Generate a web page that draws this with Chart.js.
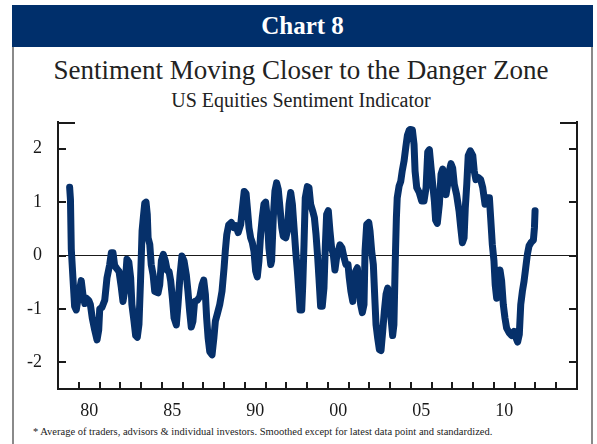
<!DOCTYPE html>
<html>
<head>
<meta charset="utf-8">
<script src="https://cdn.jsdelivr.net/npm/chart.js@4/dist/chart.umd.min.js"></script>
<style>
  html, body { margin: 0; padding: 0; background: #fff; }
  body { width: 597px; height: 444px; position: relative; overflow: hidden; font-family: "Liberation Serif", "Times New Roman", serif; color: #222; }
  #frame { position: absolute; left: 12px; top: 5px; width: 577px; height: 460px; border-left: 2px solid #8a8a8a; border-right: 2px solid #8a8a8a; }
  #header { position: absolute; left: 12px; top: 5px; width: 581px; height: 42px; background: #002f6b; color: #fff; font-weight: bold; font-size: 25px; line-height: 42px; text-align: center; }
  #title { position: absolute; left: 0; width: 602px; top: 54px; font-size: 27px; line-height: 32px; text-align: center; }
  #subtitle { position: absolute; left: 0; width: 602px; top: 88px; font-size: 20px; line-height: 25px; text-align: center; }
  #note { position: absolute; left: 33px; top: 425px; font-size: 10.5px; line-height: 14px; white-space: nowrap; }
  canvas { position: absolute; left: 0; top: 0; }
</style>
</head>
<body>
<div id="frame"></div>
<div id="header">Chart 8</div>
<div id="title">Sentiment Moving Closer to the Danger Zone</div>
<div id="subtitle">US Equities Sentiment Indicator</div>
<div id="note">* Average of traders, advisors &amp; individual investors. Smoothed except for latest data point and standardized.</div>
<canvas id="chart" width="597" height="444"></canvas>
<script>
// x positions in axis units (one unit per tick mark)
const period = [
  0.56, 0.6, 0.64, 0.72, 0.8, 0.88, 1.0, 1.12, 1.2, 1.29, 1.36, 1.48, 1.56, 1.65, 1.77, 1.88, 1.96,
  2.01, 2.12, 2.25, 2.36, 2.49, 2.57, 2.65, 2.73, 2.84, 2.94, 3.05, 3.13, 3.21, 3.32, 3.41, 3.5,
  3.56, 3.66, 3.74, 3.82, 3.9, 3.98, 4.05, 4.11, 4.18, 4.24, 4.3, 4.34, 4.42, 4.49, 4.58, 4.66,
  4.82, 4.9, 4.98, 5.07, 5.17, 5.26, 5.35, 5.43, 5.51, 5.59, 5.7, 5.78, 5.88, 5.97, 6.07, 6.18,
  6.26, 6.34, 6.42, 6.5, 6.58, 6.71, 6.83, 6.94, 7.02, 7.1, 7.16, 7.23, 7.31, 7.42, 7.51, 7.58,
  7.67, 7.79, 7.9, 8.0, 8.06, 8.13, 8.22, 8.35, 8.47, 8.57, 8.68, 8.8, 8.9, 8.97, 9.06, 9.12,
  9.2, 9.28, 9.36, 9.44, 9.52, 9.6, 9.68, 9.76, 9.84, 9.92, 10.0, 10.08, 10.16, 10.25, 10.29, 10.37,
  10.45, 10.53, 10.61, 10.69, 10.78, 10.85, 10.97, 11.05, 11.13, 11.21, 11.29, 11.37, 11.45, 11.53,
  11.61, 11.66, 11.74, 11.79, 11.85, 11.91, 12.01, 12.09, 12.17, 12.27, 12.35, 12.43, 12.51, 12.57,
  12.65, 12.73, 12.81, 12.88, 12.94, 13.02, 13.1, 13.18, 13.26, 13.34, 13.42, 13.5, 13.58, 13.68,
  13.78, 13.87, 13.97, 14.03, 14.11, 14.2, 14.26, 14.34, 14.42, 14.5, 14.58, 14.66, 14.74, 14.79,
  14.87, 14.97, 15.03, 15.11, 15.19, 15.26, 15.32, 15.4, 15.48, 15.56, 15.64, 15.72, 15.8, 15.88,
  15.96, 16.04, 16.12, 16.18, 16.25, 16.3, 16.34, 16.43, 16.51, 16.58, 16.67, 16.75, 16.83, 16.91,
  16.96, 17.07, 17.15, 17.2, 17.28, 17.4, 17.52, 17.63, 17.73, 17.81, 17.89, 17.97, 18.05, 18.13,
  18.19, 18.27, 18.37, 18.45, 18.53, 18.61, 18.69, 18.77, 18.85, 18.93, 19.01, 19.09, 19.2, 19.32,
  19.4, 19.48, 19.56, 19.62, 19.69, 19.76, 19.86, 19.98, 20.05, 20.13, 20.25, 20.36, 20.46, 20.57,
  20.68, 20.78, 20.84, 20.92, 21.0, 21.06, 21.13, 21.21, 21.29, 21.37, 21.45, 21.53, 21.61, 21.74,
  21.85, 21.97, 22.06, 22.14, 22.22, 22.29, 22.37, 22.45, 22.53, 22.61, 22.69, 22.78, 22.9, 22.95, 22.98
];

// standardized sentiment indicator
const sentiment = [
  1.28, 1.05, 0.12, -0.42, -0.95, -1.02, -0.73, -0.47, -0.73, -0.9, -0.8, -0.84, -0.92, -1.17, -1.4, -1.58, -1.4,
  -1.0, -0.97, -0.84, -0.42, -0.17, 0.05, 0.05, -0.19, -0.25, -0.3, -0.6, -0.86, -0.67, -0.07, -0.12, -0.42,
  -0.92, -1.23, -1.5, -1.53, -1.29, -0.42, 0.46, 0.71, 0.98, 1.0, 0.77, 0.33, 0.21, -0.17, -0.36, -0.67,
  -0.7, -0.55, -0.1, 0.02, -0.1, -0.28, -0.3, -0.48, -0.8, -1.17, -1.3, -0.92, -0.36, -0.01, -0.1, -0.36,
  -0.67, -1.04, -1.34, -1.23, -0.86, -0.84, -0.77, -0.55, -0.46, -0.73, -1.17, -1.54, -1.8, -1.86, -1.54, -1.23,
  -1.1, -0.92, -0.67, -0.23, 0.09, 0.39, 0.57, 0.62, 0.52, 0.56, 0.43, 0.58, 0.95, 1.2, 1.16, 0.9,
  0.52, 0.33, 0.24, 0.08, -0.29, -0.4, -0.1, 0.39, 0.71, 0.96, 1.0, 0.71, 0.14, -0.17, -0.1, 0.71,
  1.21, 1.36, 1.24, 0.9, 0.52, 0.36, 0.33, 0.46, 0.96, 1.18, 0.96, 0.52, 0.08, -0.29,
  -0.73, -1.02, -1.02, -0.55, 0.21, 1.08, 1.29, 1.27, 0.96, 0.83, 0.71, 0.39, -0.04, -0.42,
  -0.95, -0.95, -0.61, 0.21, 0.77, 0.84, 0.46, 0.14, 0.02, -0.27, -0.04, 0.08, 0.2, 0.14,
  -0.04, -0.17, -0.17, -0.42, -0.67, -0.86, -0.55, -0.29, -0.23, -0.55, -0.92, -1.07, -0.92, 0.08,
  0.58, 0.62, 0.46, 0.08, -0.17, -0.8, -1.3, -1.55, -1.76, -1.78, -1.42, -1.04, -0.73, -0.61,
  -0.8, -1.17, -1.5, -1.3, -0.04, 0.71, 1.08, 1.3, 1.39, 1.58, 1.77, 2.02, 2.25, 2.34,
  2.36, 2.35, 2.08, 1.58, 1.27, 1.18, 1.02, 1.02, 1.27, 1.94, 1.98, 1.64, 1.33, 1.02,
  0.66, 0.6, 0.96, 1.52, 1.62, 1.33, 1.14, 1.33, 1.58, 1.72, 1.64, 1.33, 1.14, 0.83,
  0.52, 0.24, 0.33, 0.9, 1.33, 1.87, 1.96, 1.87, 1.58, 1.42, 1.46, 1.42, 1.27, 0.96,
  1.08, 1.08, 0.71, 0.21, -0.1, -0.55, -0.8, -0.55, -0.27, -0.48, -0.92, -1.17, -1.36, -1.45,
  -1.5, -1.42, -1.54, -1.62, -1.48, -0.92, -0.67, -0.48, -0.23, 0.02, 0.18, 0.24, 0.29, 0.52, 0.84
];

const xLabels = ['80', '85', '90', '00', '05', '10'];
const xLabelPos = [1.5, 5.5, 9.5, 13.5, 17.5, 21.5];
const yTicks = [-2, -1, 0, 1, 2];

const NAVY = '#06306a';
const INK = '#1a1a1a';
const tickFont = { family: '"Liberation Serif", "Times New Roman", serif', size: 18 };

// tick marks point into the plot, so they are drawn by hand from the scales
const inwardTicks = {
  id: 'inwardTicks',
  afterDraw(chart) {
    const { ctx, chartArea: a, scales: { x, y } } = chart;
    ctx.save();
    ctx.strokeStyle = INK;
    ctx.lineWidth = 2;
    ctx.beginPath();
    yTicks.forEach(v => {
      const py = Math.round(y.getPixelForValue(v));
      ctx.moveTo(a.left, py); ctx.lineTo(a.left + 8, py);
      ctx.moveTo(a.right, py); ctx.lineTo(a.right - 8, py);
    });
    const top = y.getPixelForValue(y.max) + 1;
    ctx.moveTo(a.left - 1, top); ctx.lineTo(a.left + 17, top);
    ctx.moveTo(a.right + 1, top); ctx.lineTo(a.right - 17, top);
    for (let t = Math.ceil(x.min) + 1; t < x.max; t++) {
      const px = Math.round(x.getPixelForValue(t));
      ctx.moveTo(px, a.bottom); ctx.lineTo(px, a.bottom - 7);
    }
    ctx.stroke();
    ctx.restore();
  }
};

new Chart(document.getElementById('chart'), {
  type: 'line',
  data: {
    datasets: [{
      data: period.map((p, i) => ({ x: p, y: sentiment[i] })),
      borderColor: NAVY,
      borderWidth: 7,
      borderJoinStyle: 'round',
      borderCapStyle: 'round',
      pointRadius: 0,
      tension: 0
    }]
  },
  options: {
    responsive: false,
    animation: false,
    layout: { padding: { top: 122 } },
    plugins: { legend: { display: false }, tooltip: { enabled: false } },
    scales: {
      x: {
        type: 'linear', min: 0, max: 25,
        afterBuildTicks: s => { s.ticks = xLabelPos.map(v => ({ value: v })); },
        afterFit: s => { s.height = 55; },
        ticks: { callback: (v, i) => xLabels[i], autoSkip: false, maxRotation: 0, padding: 3, font: tickFont, color: INK },
        grid: { display: false },
        border: { display: true, color: INK, width: 2 }
      },
      y: {
        min: -2.5, max: 2.5,
        afterBuildTicks: s => { s.ticks = yTicks.map(v => ({ value: v })); },
        afterFit: s => { s.width = 58; },
        ticks: { padding: 16, font: tickFont, color: INK },
        grid: { color: c => (c.tick && c.tick.value === 0 ? INK : 'rgba(0,0,0,0)'), lineWidth: 1, drawTicks: false },
        border: { color: INK, width: 2 }
      },
      y2: {
        position: 'right', min: -2.5, max: 2.5,
        afterFit: s => { s.width = 20; },
        ticks: { display: false },
        grid: { display: false, drawTicks: false },
        border: { color: INK, width: 2 }
      }
    }
  },
  plugins: [inwardTicks]
});
</script>
</body>
</html>
